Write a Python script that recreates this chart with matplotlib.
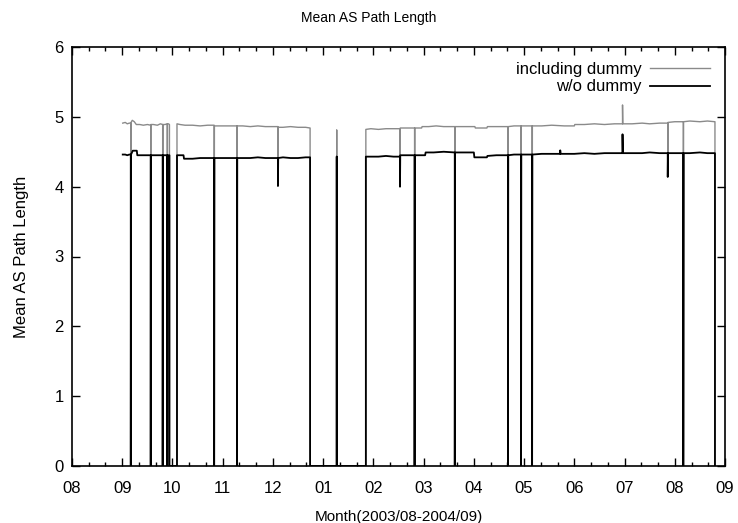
import numpy as np
import matplotlib
matplotlib.use('agg')
from matplotlib import pyplot as plt

# x in months since 2003/08 (0 = 08, 13 = 09 of next year)
month_labels = ['08', '09', '10', '11', '12', '01', '02', '03', '04', '05', '06', '07', '08', '09']

# including dummy (grey), 0 = missing data
incl_x = [1.01, 1.06, 1.10, 1.14, 1.17, 1.17, 1.175, 1.20, 1.24, 1.28, 1.35, 1.42, 1.50,
          1.567, 1.567, 1.57, 1.62, 1.70, 1.76, 1.805, 1.805, 1.81, 1.85, 1.897, 1.897, 1.90,
          1.92, 1.94, 1.94, 2.09, 2.09,
          2.15, 2.25, 2.40, 2.55, 2.70, 2.83, 2.83, 2.835, 2.95, 3.10, 3.285, 3.285, 3.29,
          3.40, 3.55, 3.70, 3.85, 4.00, 4.10, 4.10, 4.105, 4.20, 4.35, 4.50, 4.65, 4.74, 4.74,
          5.27, 5.27, 5.27, 5.85, 5.85,
          5.95, 6.10, 6.25, 6.40, 6.53, 6.53, 6.535, 6.65, 6.82, 6.82, 6.825, 6.96, 6.97,
          7.10, 7.25, 7.40, 7.62, 7.62, 7.625, 7.80, 8.02, 8.03, 8.15, 8.26, 8.27, 8.45,
          8.68, 8.68, 8.685, 8.80, 8.94, 8.94, 8.945, 9.05, 9.16, 9.16, 9.165, 9.35, 9.55,
          9.80, 10.00, 10.01, 10.20, 10.40, 10.60, 10.80, 10.96, 10.96, 10.965, 11.15, 11.35,
          11.50, 11.70, 11.86, 11.86, 11.865, 12.00, 12.17, 12.17, 12.175, 12.30, 12.50,
          12.65, 12.80, 12.80]
incl_y = [4.91, 4.92, 4.90, 4.91, 4.91, 0.0, 4.92, 4.95, 4.93, 4.89, 4.89, 4.88, 4.89,
          4.88, 0.0, 4.89, 4.89, 4.88, 4.90, 4.89, 0.0, 4.89, 4.89, 4.90, 0.0, 4.90,
          4.90, 4.89, 0.0, 0.0, 4.90,
          4.89, 4.88, 4.88, 4.87, 4.88, 4.88, 0.0, 4.87, 4.87, 4.87, 4.87, 0.0, 4.87,
          4.87, 4.86, 4.87, 4.86, 4.86, 4.86, 4.01, 4.85, 4.85, 4.86, 4.85, 4.85, 4.84, 0.0,
          0.0, 4.81, 0.0, 0.0, 4.82,
          4.83, 4.82, 4.83, 4.83, 4.83, 4.00, 4.84, 4.84, 4.84, 0.0, 4.84, 4.84, 4.86,
          4.86, 4.87, 4.86, 4.86, 0.0, 4.86, 4.86, 4.86, 4.84, 4.84, 4.84, 4.86, 4.86,
          4.86, 0.0, 4.86, 4.87, 4.87, 0.0, 4.87, 4.87, 4.87, 0.0, 4.87, 4.87, 4.88,
          4.87, 4.87, 4.89, 4.89, 4.90, 4.89, 4.90, 4.90, 5.17, 4.90, 4.90, 4.91,
          4.90, 4.91, 4.91, 4.14, 4.92, 4.93, 4.93, 0.0, 4.93, 4.94, 4.93,
          4.94, 4.93, 0.0]

# w/o dummy (black)
wo_x = [1.01, 1.06, 1.10, 1.14, 1.17, 1.17, 1.175, 1.21, 1.29, 1.30, 1.35, 1.42, 1.50,
        1.567, 1.567, 1.57, 1.62, 1.70, 1.76, 1.805, 1.805, 1.81, 1.85, 1.897, 1.897, 1.90,
        1.92, 1.94, 1.94, 2.09, 2.09,
        2.15, 2.22, 2.23, 2.40, 2.55, 2.70, 2.83, 2.83, 2.835, 2.95, 3.10, 3.285, 3.285, 3.29,
        3.40, 3.55, 3.70, 3.85, 4.00, 4.10, 4.10, 4.105, 4.20, 4.35, 4.50, 4.65, 4.74, 4.74,
        5.27, 5.27, 5.27, 5.85, 5.85,
        5.95, 6.10, 6.25, 6.40, 6.53, 6.53, 6.535, 6.65, 6.82, 6.82, 6.825, 6.95, 7.03, 7.04,
        7.20, 7.40, 7.62, 7.62, 7.625, 7.80, 8.00, 8.01, 8.15, 8.26, 8.27, 8.45,
        8.68, 8.68, 8.685, 8.80, 8.94, 8.94, 8.945, 9.05, 9.16, 9.16, 9.165, 9.35, 9.55,
        9.72, 9.72, 9.725, 10.00, 10.20, 10.40, 10.60, 10.80, 10.96, 10.96, 10.965, 11.15,
        11.35, 11.50, 11.70, 11.86, 11.86, 11.865, 12.00, 12.17, 12.17, 12.175, 12.30, 12.50,
        12.65, 12.80, 12.80]
wo_y = [4.46, 4.46, 4.45, 4.46, 4.46, 0.0, 4.46, 4.515, 4.515, 4.45, 4.45, 4.45, 4.45,
        4.45, 0.0, 4.45, 4.45, 4.45, 4.45, 4.45, 0.0, 4.45, 4.45, 4.45, 0.0, 4.45,
        4.45, 4.45, 0.0, 0.0, 4.45,
        4.45, 4.45, 4.40, 4.40, 4.41, 4.41, 4.41, 0.0, 4.41, 4.41, 4.41, 4.41, 0.0, 4.41,
        4.41, 4.41, 4.42, 4.41, 4.41, 4.41, 4.01, 4.41, 4.42, 4.41, 4.41, 4.42, 4.42, 0.0,
        0.0, 4.43, 0.0, 0.0, 4.43,
        4.43, 4.43, 4.44, 4.43, 4.43, 4.00, 4.45, 4.45, 4.45, 0.0, 4.45, 4.45, 4.45, 4.49,
        4.49, 4.50, 4.49, 0.0, 4.49, 4.49, 4.49, 4.42, 4.42, 4.42, 4.44, 4.45,
        4.45, 0.0, 4.45, 4.46, 4.46, 0.0, 4.46, 4.46, 4.46, 0.0, 4.46, 4.47, 4.47,
        4.47, 4.52, 4.47, 4.47, 4.48, 4.47, 4.48, 4.48, 4.48, 4.75, 4.48, 4.48,
        4.48, 4.49, 4.48, 4.48, 4.14, 4.48, 4.48, 4.48, 0.0, 4.48, 4.48, 4.49,
        4.48, 4.48, 0.0]

plt.rcParams['font.family'] = ['Liberation Sans', 'DejaVu Sans']

fig = plt.figure(figsize=(7.38, 5.23), dpi=100)
ax = fig.add_axes([72/738, 1 - 466/523, 653/738, 419/523])

ax.plot(incl_x, incl_y, color='#8a8a8a', lw=1.0, label='including dummy')
ax.plot(wo_x, wo_y, color='black', lw=1.3, label='w/o dummy')

ax.set_xlim(0, 13)
ax.set_ylim(0, 6)
ax.set_xticks(np.arange(len(month_labels)))
ax.set_xticklabels(month_labels)
ax.set_xticks(np.arange(0, 13, 1/3), minor=True)
ax.set_yticks(np.arange(0, 7))
ax.tick_params(direction='in', top=True, right=True, labelsize=12, length=6, width=1)
ax.tick_params(axis='x', pad=11)
ax.tick_params(axis='y', pad=6)
ax.tick_params(which='minor', direction='in', top=True, length=3, width=1)
for s in ax.spines.values():
    s.set_linewidth(1.2)

# gnuplot centres the title on the whole canvas
fig.text(0.5, 1 - 18/523, 'Mean AS Path Length', fontsize=10, ha='center', va='center')
ax.set_xlabel('Month(2003/08-2004/09)', fontsize=11, labelpad=10)
ax.set_ylabel('Mean AS Path Length', fontsize=12, labelpad=18)

leg = ax.legend(loc='upper right', frameon=False, markerfirst=False, fontsize=12,
                handlelength=3.6, handletextpad=0.5, labelspacing=0.15,
                borderaxespad=0.5)
for t in leg.get_texts():
    t.set_ha('right')

fig.savefig('out.png', dpi=100)
